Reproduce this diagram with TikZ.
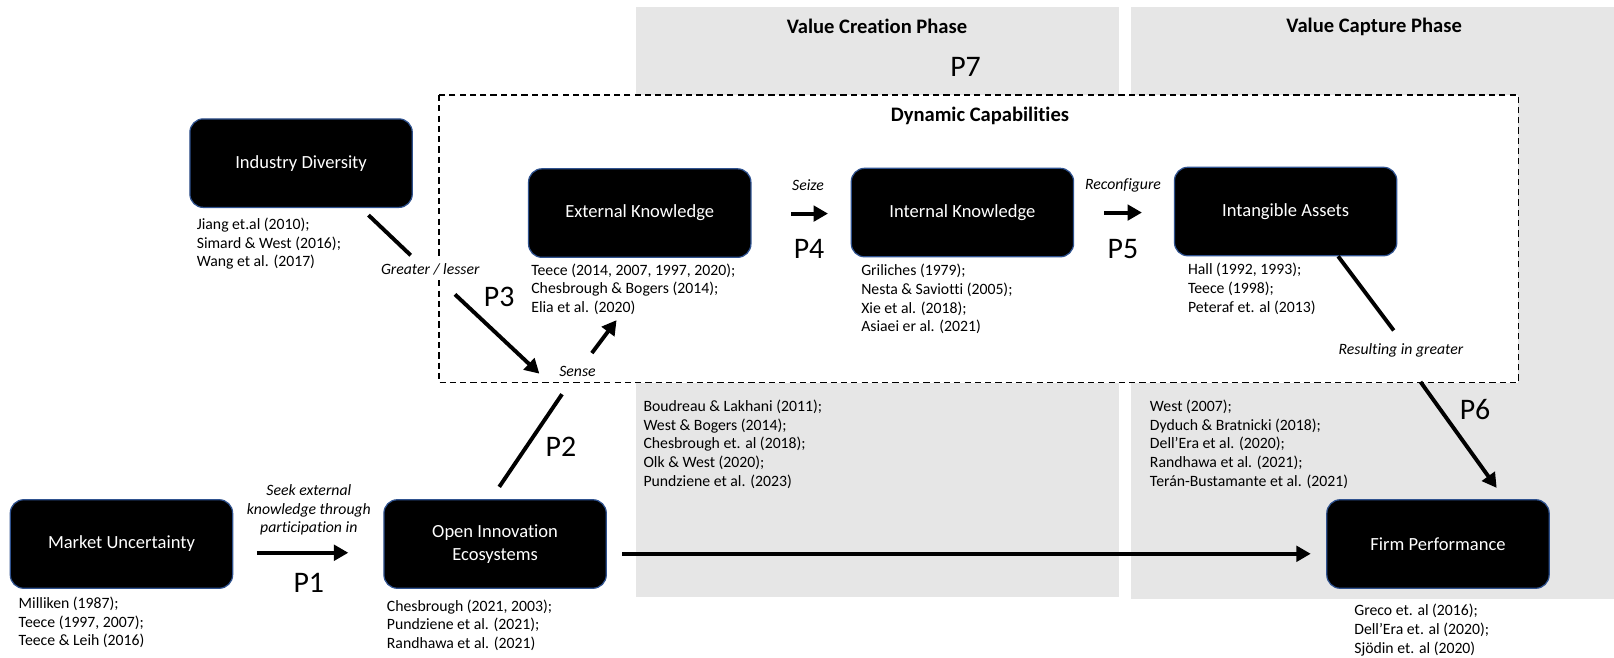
\documentclass[tikz,border=0pt]{standalone}
\usepackage{fontspec}
\setmainfont[Ligatures=CommonOff]{Carlito}
\usetikzlibrary{arrows.meta}
\definecolor{phasegray}{RGB}{230,230,230}
\definecolor{boxedge}{RGB}{47,82,143}
\begin{document}
\begin{tikzpicture}[x=1pt,y=-1pt,
  box/.style={rectangle, rounded corners=13pt, fill=black, draw=boxedge, line width=1.2pt,
    text=white, minimum width=216pt, minimum height=86pt, align=center,
    font=\fontsize{18}{22}\selectfont},
  refs/.style={anchor=north west, align=left, inner sep=0pt, font=\fontsize{15.3}{18.2}\selectfont},
  cue/.style={font=\itshape\fontsize{15.3}{18.2}\selectfont, inner sep=1pt, align=center},
  plabel/.style={font=\fontsize{29}{32}\selectfont, inner sep=0pt},
  phase/.style={font=\bfseries\fontsize{20}{22}\selectfont, inner sep=0pt},
  arr/.style={line width=3.8pt, -{Triangle[length=14pt,width=15pt]}},
  link/.style={line width=3.8pt},
]
\useasboundingbox (0,0) rectangle (1568,639);

% phase backgrounds
\fill[phasegray] (618,7) rectangle (1087,580);
\fill[phasegray] (1099,7) rectangle (1568,582);
\node[phase] (creation) at (852,26) {Value Creation Phase};
\node[phase] (capture) at (1335,26) {Value Capture Phase};
\node[plabel] (p7) at (938,65) {P7};

% dynamic capabilities frame
\draw[fill=white, line width=1.2pt, dash pattern=on 6pt off 4pt] (426.5,92.3) rectangle (1475,371.8);
\node[phase] (dyncap) at (952,113) {Dynamic Capabilities};

% constructs
\node[box] (ind) at (292.5,158.5) {Industry Diversity};
\node[box] (ext) at (621.5,207) {External Knowledge};
\node[box] (int) at (935,206.5) {Internal Knowledge};
\node[box] (intang) at (1249,205.5) {Intangible Assets};
\node[box] (mkt) at (118,528.5) {Market Uncertainty};
\node[box] (oie) at (481,528.5) {Open Innovation\\Ecosystems};
\node[box] (firm) at (1397,528.5) {Firm Performance};

% references
\node[refs] (indref) at (191,211.5) {Jiang et.al (2010);\\Simard \& West (2016);\\Wang et al. (2017)};
\node[refs] (extref) at (516,256) {Teece (2014, 2007, 1997, 2020);\\Chesbrough \& Bogers (2014);\\Elia et al. (2020)};
\node[refs] (intref) at (836.5,256.5) {Griliches (1979);\\Nesta \& Saviotti (2005);\\Xie et al. (2018);\\Asiaei er al. (2021)};
\node[refs] (intangref) at (1154,255.7) {Hall (1992, 1993);\\Teece (1998);\\Peteraf et. al (2013)};
\node[refs] (mktref) at (18,579.7) {Milliken (1987);\\Teece (1997, 2007);\\Teece \& Leih (2016)};
\node[refs] (oieref) at (375.7,582.3) {Chesbrough (2021, 2003);\\Pundziene et al. (2021);\\Randhawa et al. (2021)};
\node[refs] (creationref) at (625,388.3) {Boudreau \& Lakhani (2011);\\West \& Bogers (2014);\\Chesbrough et. al (2018);\\Olk \& West (2020);\\Pundziene et al. (2023)};
\node[refs] (captureref) at (1117,388.3) {West (2007);\\Dyduch \& Bratnicki (2018);\\Dell’Era et al. (2020);\\Randhawa et al. (2021);\\Terán-Bustamante et al. (2021)};
\node[refs] (firmref) at (1315.5,586.7) {Greco et. al (2016);\\Dell’Era et. al (2020);\\Sjödin et. al (2020)};

% cues on the links
\node[cue] (seize) at (785,180) {Seize};
\node[cue] (reconf) at (1091,180) {Reconfigure};
\node[cue, fill=white, inner ysep=4pt] (greater) at (418,262) {Greater / lesser};
\node[cue] (sense) at (561,360.5) {Sense};
\node[cue] (resulting) at (1361,340) {Resulting in greater};
\node[cue] (seek) at (300,495.5) {Seek external\\knowledge through\\participation in};

% proposition labels
\node[plabel] (p1) at (300,566.5) {P1};
\node[plabel] (p2) at (545,434) {P2};
\node[plabel] (p3) at (485,288) {P3};
\node[plabel] (p4) at (786,242) {P4};
\node[plabel] (p5) at (1091,242) {P5};
\node[plabel] (p6) at (1433,398) {P6};

% link end points
\coordinate (indA) at (358,209);
\coordinate (indB) at (399,248);
\coordinate (p3A) at (442,286);
\coordinate (p3B) at (524,363);
\coordinate (senseA) at (575,343);
\coordinate (senseB) at (599,311);
\coordinate (p2A) at (485,473);
\coordinate (p2B) at (546,383);
\coordinate (intangA) at (1300,249);
\coordinate (intangB) at (1354,321);
\coordinate (p6A) at (1380,371);
\coordinate (p6B) at (1454,474);

% connectors
\draw[arr, shorten <=38.5pt, shorten >=22pt] ([yshift=-0.5pt]ext.east) -- ([yshift=-0.5pt]ext.east -| int.west);
\draw[arr, shorten <=29pt, shorten >=31pt] (int.east) -- (int.east -| intang.west);
\draw[arr, shorten <=23pt, shorten >=34pt] ([yshift=-8.5pt]mkt.east) -- ([yshift=-8.5pt]oie.west);
\draw[arr, shorten <=15pt, shorten >=15pt] ([yshift=-9.5pt]oie.east) -- ([yshift=-9.5pt]firm.west);
\draw[link] (indA) -- (indB);
\draw[arr] (p3A) -- (p3B);
\draw[arr] (senseA) -- (senseB);
\draw[link] (p2A) -- (p2B);
\draw[link] (intangA) -- (intangB);
\draw[arr] (p6A) -- (p6B);
\end{tikzpicture}
\end{document}
